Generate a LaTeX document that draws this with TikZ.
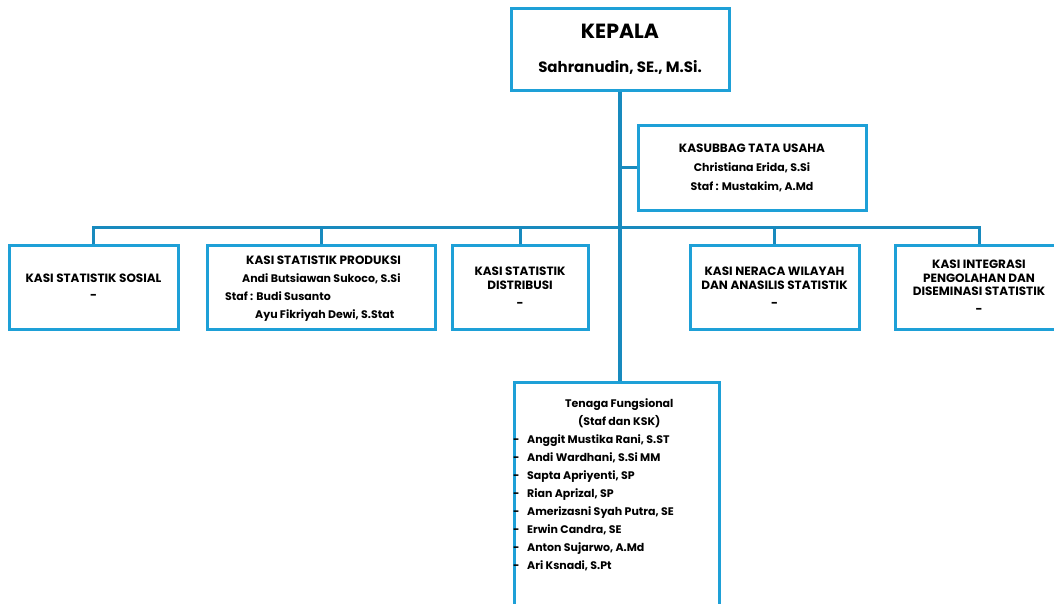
\documentclass[tikz,border=0pt]{standalone}
\usepackage{fontspec}
\setmainfont{Poppins}

\definecolor{kborder}{RGB}{30,160,215}
\definecolor{kline}{RGB}{24,138,190}

\newcommand{\capsize}{\fontsize{12}{13.5}\selectfont}
\newcommand{\namesize}{\fontsize{11}{18}\selectfont}

\tikzset{
  unit/.style={draw=kborder, line width=3pt, fill=white, inner sep=0pt,
    align=center, font=\capsize\bfseries},
  link/.style={draw=kline, line width=3pt},
  listing/.style={inner sep=0pt, align=left, font=\namesize\bfseries},
}

\begin{document}
\begin{tikzpicture}[x=1pt, y=-1pt]

  \useasboundingbox (0,0) rectangle (1054,603);
  \clip (0,0) rectangle (1054,603);

  % head and secretariat
  \node[unit, minimum width=218pt, minimum height=82pt, font=\fontsize{15}{34}\selectfont\bfseries]
    (kepala) at (620,49)
    {{\fontsize{20.5}{34}\selectfont KEPALA}\\Sahranudin, SE., M.Si.};
  \node[unit, minimum width=228pt, minimum height=85pt, font=\fontsize{11}{19}\selectfont\bfseries]
    (tu) at (752,167.5)
    {{\fontsize{12}{19}\selectfont KASUBBAG TATA USAHA}\\Christiana Erida, S.Si\\Staf : Mustakim, A.Md};

  % sections
  \node[unit, minimum width=169pt, minimum height=84pt] (sosial) at (93.5,287)
    {KASI STATISTIK SOSIAL\\[3.5pt]-};
  \node[unit, minimum width=228pt, minimum height=84pt] (produksi) at (321,287) {};
  \node[listing, anchor=north west] (produksi-txt) at (225,256)
    {\hspace*{21pt}{\fontsize{12}{18}\selectfont KASI STATISTIK PRODUKSI}\\
     \hspace*{17pt}Andi Butsiawan Sukoco, S.Si\\
     Staf : Budi Susanto\\
     \hspace*{30pt}Ayu Fikriyah Dewi, S.Stat};
  \node[unit, minimum width=136pt, minimum height=84pt] (distribusi) at (520,287)
    {KASI STATISTIK\\DISTRIBUSI\\[4.5pt]-};
  \node[unit, minimum width=169pt, minimum height=84pt] (neraca) at (774.5,287)
    {KASI NERACA WILAYAH\\DAN ANASILIS STATISTIK\\[4.5pt]-};
  \node[unit, minimum width=168pt, minimum height=84pt] (integrasi) at (979,287)
    {KASI INTEGRASI\\PENGOLAHAN DAN\\DISEMINASI STATISTIK\\[4.5pt]-};

  % functional staff, box runs off the page
  \node[unit, minimum width=205pt, minimum height=238pt] (fungsional) at (616.5,501) {};
  \node[listing, anchor=north west] (fungsional-txt) at (513,398.5)
    {\hspace*{52pt}Tenaga Fungsional\\
     \hspace*{65pt}(Staf dan KSK)\\
     \makebox[14pt][l]{-}Anggit Mustika Rani, S.ST\\
     \makebox[14pt][l]{-}Andi Wardhani, S.Si MM\\
     \makebox[14pt][l]{-}Sapta Apriyenti, SP\\
     \makebox[14pt][l]{-}Rian Aprizal, SP\\
     \makebox[14pt][l]{-}Amerizasni Syah Putra, SE\\
     \makebox[14pt][l]{-}Erwin Candra, SE\\
     \makebox[14pt][l]{-}Anton Sujarwo, A.Md\\
     \makebox[14pt][l]{-}Ari Ksnadi, S.Pt};

  % connectors
  \coordinate (bus) at (620,227);
  \draw[link, line width=4pt] (kepala.south) -- (kepala.south |- fungsional.north);
  \draw[link] (kepala.south |- tu.west) -- (tu.west);
  \draw[link] (sosial.north) -- (sosial.north |- bus) -- (integrasi.north |- bus) -- (integrasi.north);
  \foreach \sec in {produksi, distribusi, neraca}
    \draw[link] (\sec.north) -- (\sec.north |- bus);

\end{tikzpicture}
\end{document}
